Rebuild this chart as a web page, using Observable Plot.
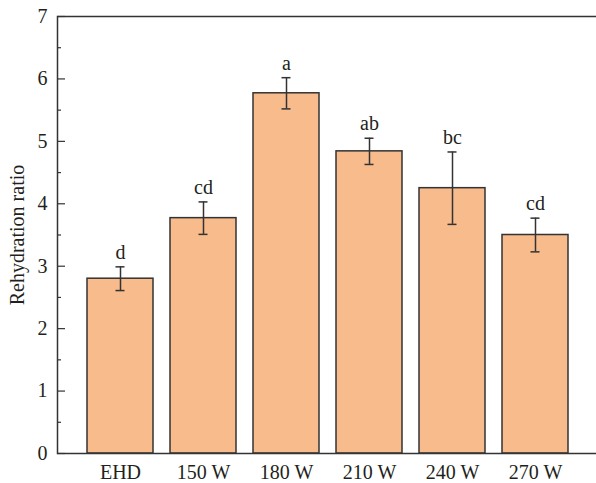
<!DOCTYPE html>
<html>
<head>
<meta charset="utf-8">
<script src="https://cdn.jsdelivr.net/npm/d3@7"></script>
<script src="https://cdn.jsdelivr.net/npm/@observablehq/plot@0.6"></script>
<style>
  html, body { margin: 0; padding: 0; background: #fff; overflow: hidden; }
</style>
</head>
<body>
<div id="chart"></div>
<script>
const categories = ["EHD", "150 W", "180 W", "210 W", "240 W", "270 W"];
const means = [2.80, 3.77, 5.77, 4.84, 4.25, 3.50];
const errors = [0.19, 0.26, 0.25, 0.21, 0.58, 0.27];
const letters = ["d", "cd", "a", "ab", "bc", "cd"];
const majorTicks = [0, 1, 2, 3, 4, 5, 6, 7];
const minorTicks = [0.5, 1.5, 2.5, 3.5, 4.5, 5.5, 6.5];
const yLabel = "Rehydration ratio";

const data = categories.map((c, i) => ({cat: c, mean: means[i], err: errors[i], letter: letters[i]}));

const FONT = "'Liberation Serif', 'DejaVu Serif', serif";
const INK = "#333333";

const chart = Plot.plot({
  width: 596,
  height: 483,
  marginLeft: 57,
  marginRight: -3,
  marginTop: 16,
  marginBottom: 30,
  style: {fontFamily: FONT, fontSize: "20px", color: "#231f20", background: "#fff"},
  x: {domain: categories, paddingInner: 0.2, paddingOuter: 0.35, label: null},
  y: {domain: [0, 7], label: null},
  marks: [
    Plot.barY(data, {x: "cat", y: "mean", fill: "#f8bb8c", stroke: INK, strokeWidth: 1.5}),
    Plot.ruleX(data, {x: "cat", y1: d => d.mean - d.err, y2: d => d.mean + d.err, stroke: INK, strokeWidth: 1.5}),
    Plot.tickY(data, {x: "cat", y: d => d.mean + d.err, stroke: INK, strokeWidth: 1.5, insetLeft: 28.5, insetRight: 28.5}),
    Plot.tickY(data, {x: "cat", y: d => d.mean - d.err, stroke: INK, strokeWidth: 1.5, insetLeft: 28.5, insetRight: 28.5}),
    Plot.text(data, {x: "cat", y: d => d.mean + d.err, text: "letter", lineAnchor: "bottom", dy: -8, fontSize: 20, fill: "#231f20"}),
    Plot.axisY({ticks: majorTicks, tickSize: -8, tickFormat: () => "", stroke: INK, strokeWidth: 1.2, label: null}),
    Plot.axisY({ticks: minorTicks, tickSize: -4, tickFormat: () => "", stroke: INK, strokeWidth: 1.2, label: null}),
    Plot.axisY({ticks: majorTicks, tickSize: 0, tickPadding: 10, tickFormat: d => String(d), fontSize: 20, label: null}),
    Plot.axisX({tickSize: 0, tickPadding: 11, fontSize: 20, label: null}),
    Plot.text([yLabel], {frameAnchor: "left", textAnchor: "middle", lineAnchor: "middle", rotate: -90, dx: -40, fontSize: 20, fill: "#231f20"}),
    Plot.frame({stroke: INK, strokeWidth: 1.5})
  ]
});
document.getElementById("chart").appendChild(chart);
</script>
</body>
</html>
